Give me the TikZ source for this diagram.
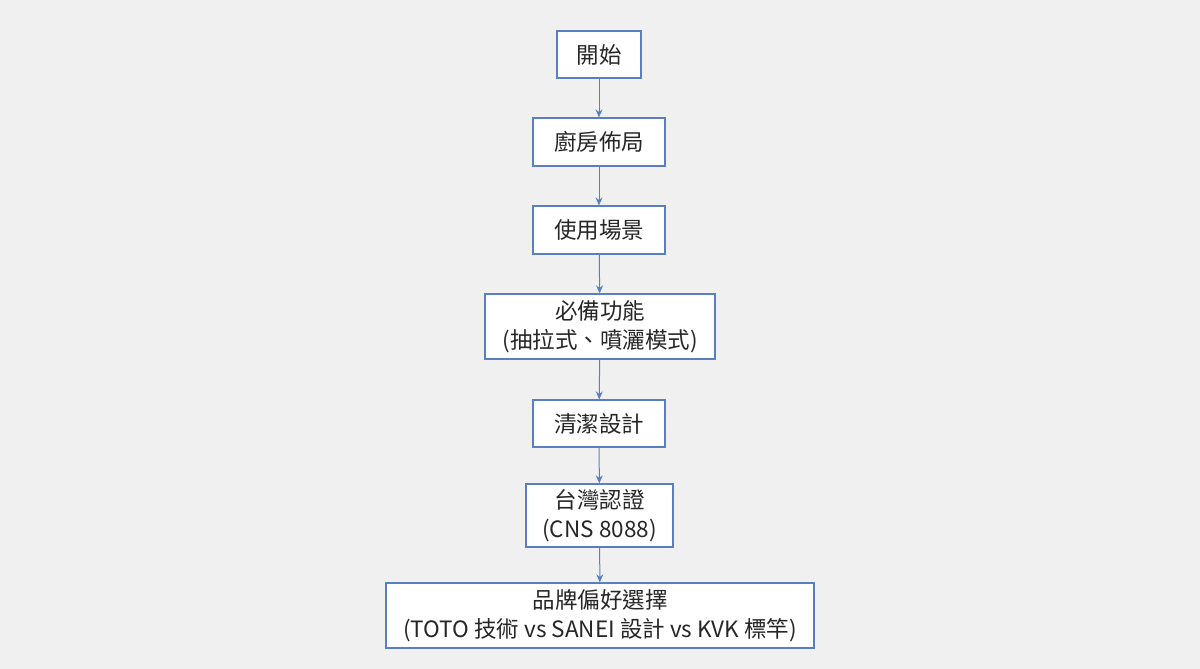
\documentclass[tikz,border=0pt]{standalone}
\usepackage{fontspec}
\setmainfont{Noto Sans CJK TC}
\usetikzlibrary{arrows.meta}
\begin{document}
\begin{tikzpicture}[x=1pt,y=-1pt,
  box/.style={draw=boxblue,line width=1.3pt,fill=white,inner sep=0pt,align=center,font=\fontsize{22.5}{29}\selectfont,text=black!85},
  arr/.style={draw=boxblue,line width=1pt,-{Stealth[length=8pt,width=7pt]}}]
\definecolor{boxblue}{HTML}{5A7FBF}
\fill[black!6] (0,0) rectangle (1200,669);
\useasboundingbox (0,0) rectangle (1200,669);
\node[box,minimum width=84pt,minimum height=47pt] (a) at (599,54.5) {開始};
\node[box,minimum width=132pt,minimum height=48pt] (b) at (599,142) {廚房佈局};
\node[box,minimum width=132pt,minimum height=48pt] (c) at (599,230) {使用場景};
\node[box,minimum width=230pt,minimum height=65pt] (d) at (600,326.5) {必備功能\\(抽拉式、噴灑模式)};
\node[box,minimum width=132pt,minimum height=47pt] (e) at (599,423.5) {清潔設計};
\node[box,minimum width=147pt,minimum height=63pt] (f) at (599.5,515.5) {台灣認證\\(CNS 8088)};
\node[box,minimum width=428pt,minimum height=65pt] (g) at (600,615.5) {品牌偏好選擇\\(TOTO 技術 vs SANEI 設計 vs KVK 標竿)};
\foreach \p/\q in {a/b,b/c,c/d,d/e,e/f,f/g} \draw[arr] (\p) -- (\q);
\end{tikzpicture}
\end{document}
